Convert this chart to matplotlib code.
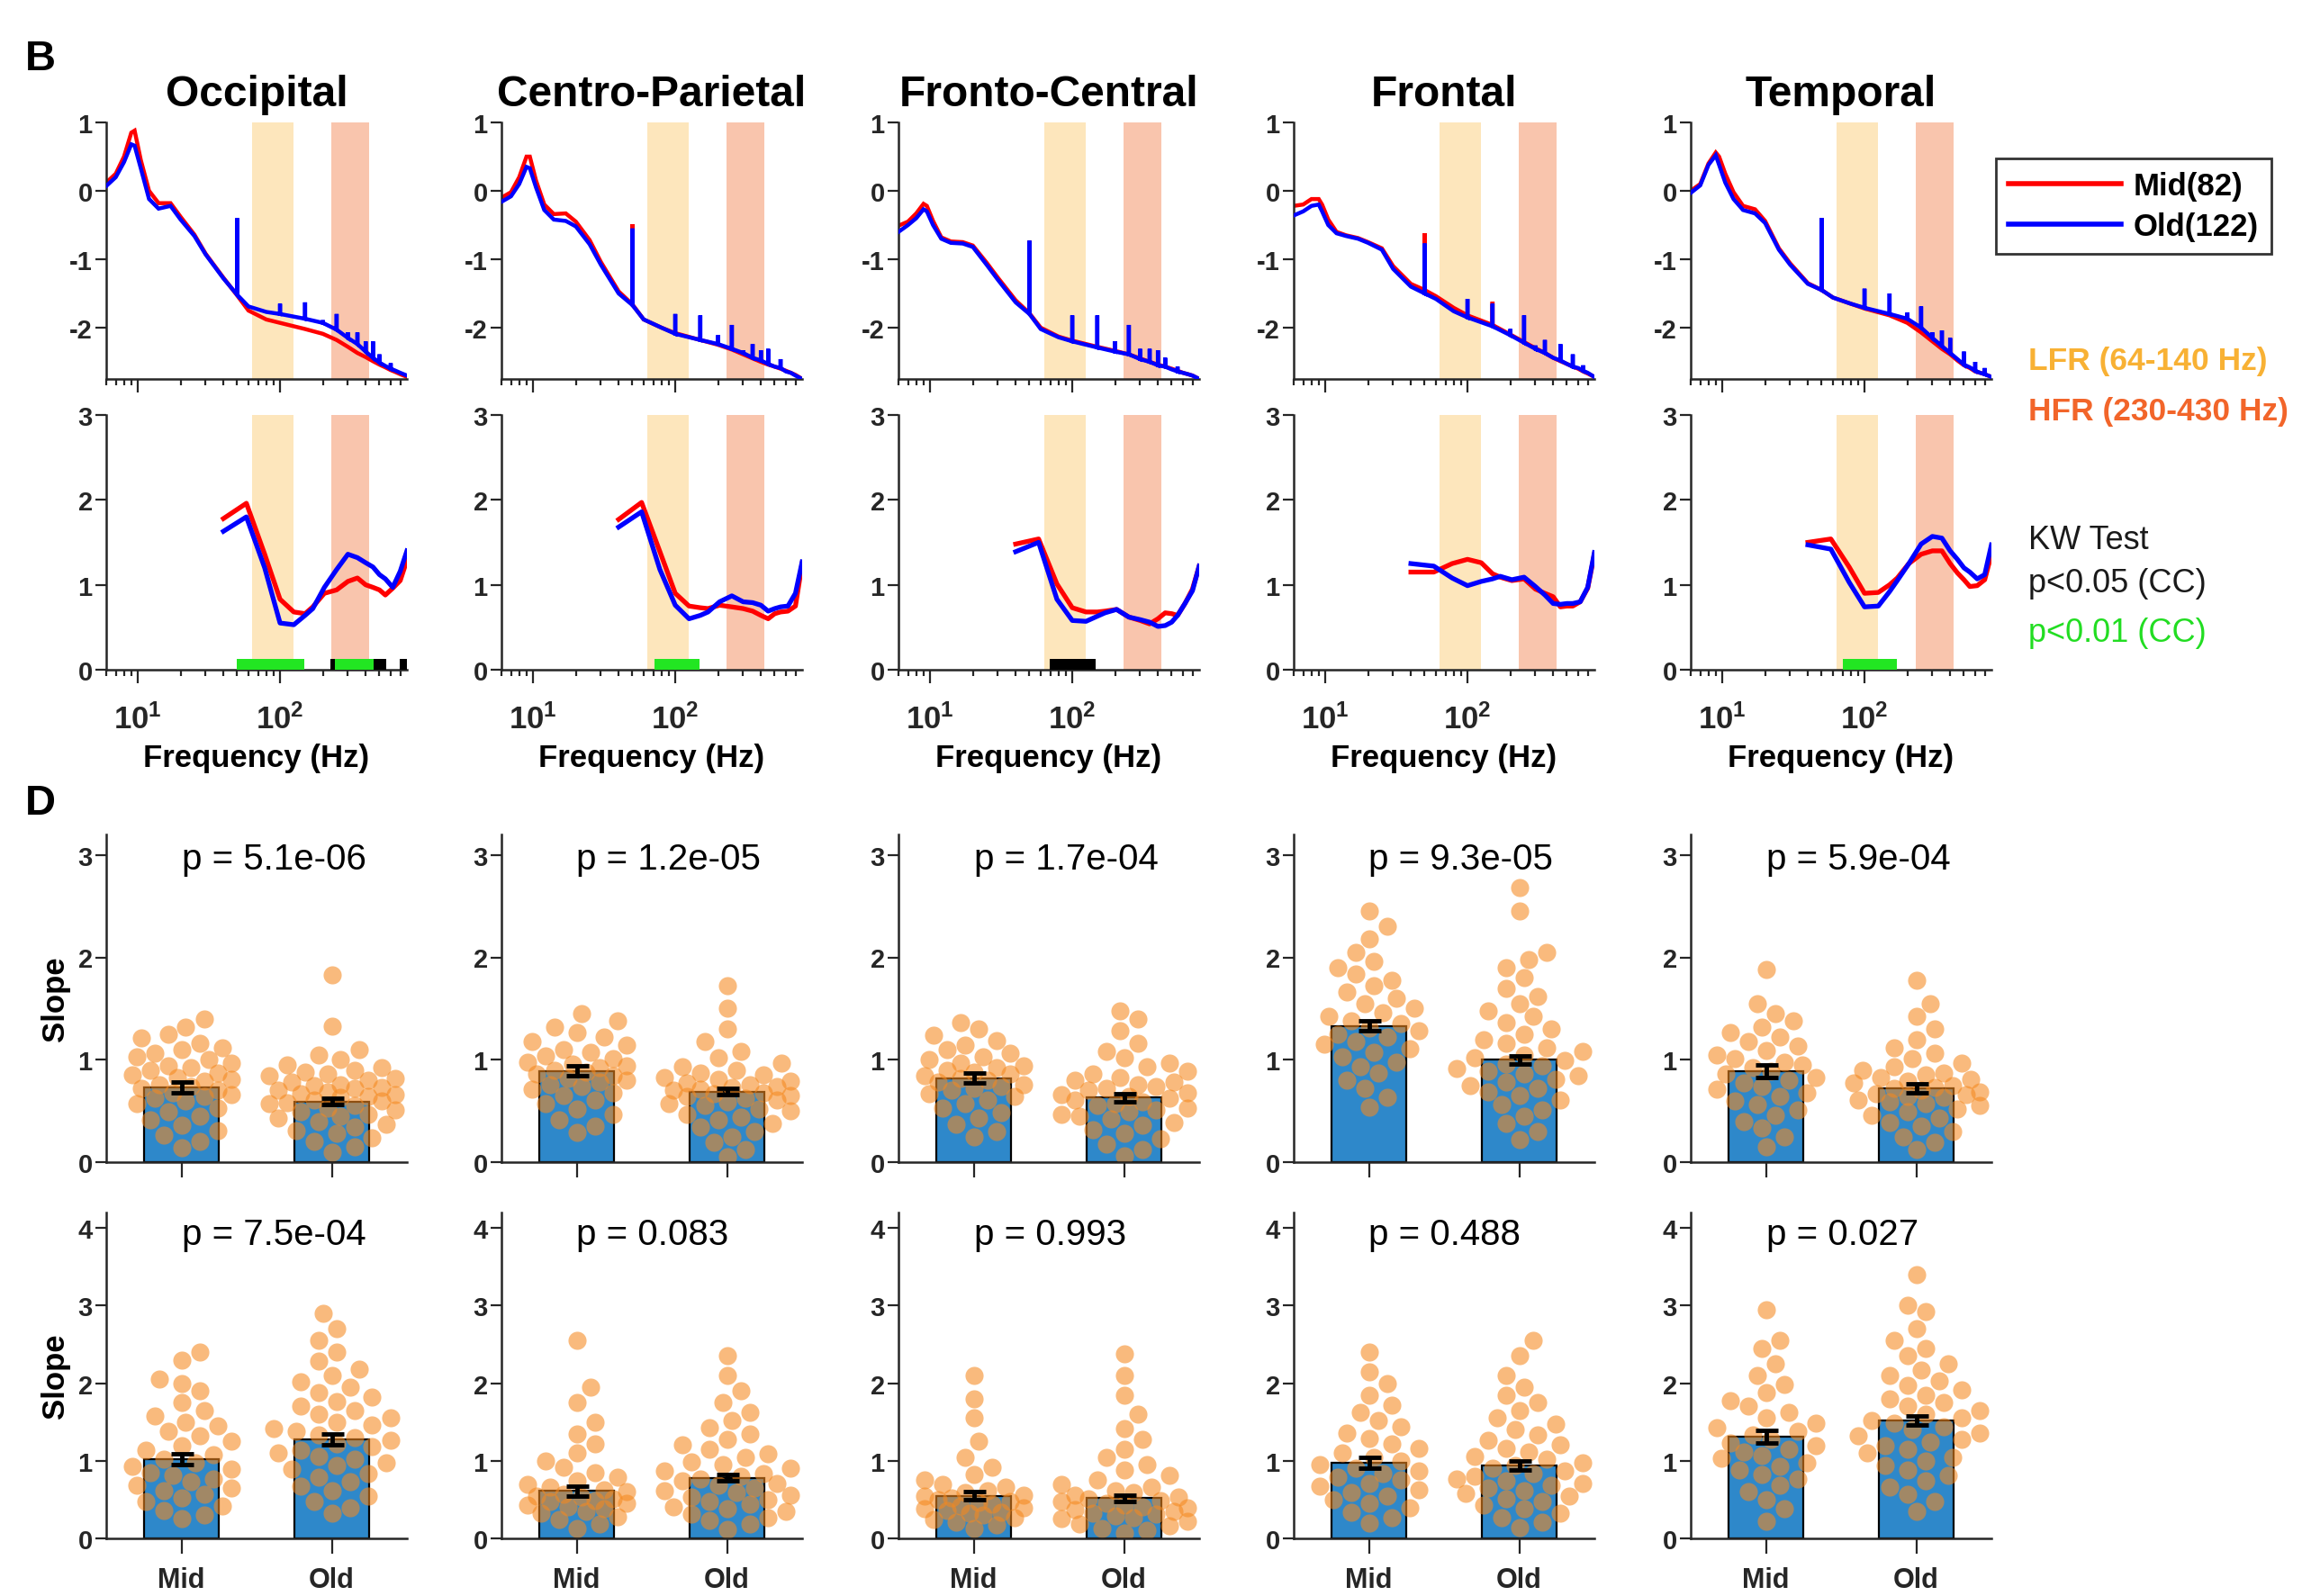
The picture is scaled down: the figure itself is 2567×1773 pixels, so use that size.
import numpy as np
import matplotlib.pyplot as plt
from matplotlib.lines import Line2D
from matplotlib.ticker import NullFormatter

plt.rcParams['font.family'] = ['Liberation Sans', 'DejaVu Sans']
plt.rcParams['mathtext.fontset'] = 'custom'
plt.rcParams['mathtext.rm'] = 'Liberation Sans:bold'
plt.rcParams['mathtext.bf'] = 'Liberation Sans:bold'

# ---------------- data ----------------
regions = ['Occipital', 'Centro-Parietal', 'Fronto-Central', 'Frontal', 'Temporal']

# log power spectra (top row)
freq = [6, 7, 8, 9, 9.5, 10.5, 12, 14, 17, 20, 25, 30, 40, 50, 60, 80, 100, 150, 200,
        250, 300, 350, 400, 450, 500, 550, 600, 650, 700, 780]
psd_mid = [
    [0.12, 0.25, 0.50, 0.85, 0.88, 0.45, 0.00, -0.18, -0.18, -0.38, -0.64, -0.92, -1.27, -1.53, -1.75,
     -1.88, -1.93, -2.02, -2.09, -2.18, -2.28, -2.37, -2.43, -2.49, -2.54, -2.58, -2.62, -2.65, -2.68, -2.72],
    [-0.10, -0.02, 0.20, 0.50, 0.50, 0.15, -0.20, -0.34, -0.33, -0.45, -0.72, -1.04, -1.47, -1.66, -1.88,
     -2.00, -2.08, -2.18, -2.25, -2.32, -2.39, -2.45, -2.50, -2.54, -2.57, -2.60, -2.63, -2.66, -2.69, -2.75],
    [-0.51, -0.45, -0.33, -0.19, -0.22, -0.44, -0.68, -0.74, -0.75, -0.80, -1.05, -1.27, -1.60, -1.79, -2.00,
     -2.13, -2.19, -2.28, -2.34, -2.39, -2.45, -2.50, -2.54, -2.57, -2.60, -2.63, -2.66, -2.68, -2.70, -2.75],
    [-0.22, -0.20, -0.12, -0.12, -0.20, -0.42, -0.60, -0.65, -0.69, -0.75, -0.84, -1.10, -1.36, -1.45, -1.54,
     -1.71, -1.82, -1.96, -2.10, -2.21, -2.30, -2.37, -2.44, -2.49, -2.53, -2.57, -2.60, -2.64, -2.67, -2.72],
    [0.00, 0.10, 0.40, 0.56, 0.50, 0.25, -0.02, -0.22, -0.27, -0.44, -0.84, -1.06, -1.35, -1.45, -1.56,
     -1.65, -1.72, -1.82, -1.93, -2.07, -2.20, -2.31, -2.39, -2.48, -2.55, -2.59, -2.64, -2.66, -2.68, -2.72],
]
psd_old = [
    [0.07, 0.20, 0.42, 0.68, 0.66, 0.33, -0.12, -0.26, -0.22, -0.42, -0.66, -0.93, -1.28, -1.52, -1.69,
     -1.77, -1.80, -1.87, -1.93, -2.03, -2.15, -2.24, -2.35, -2.44, -2.51, -2.56, -2.60, -2.63, -2.66, -2.70],
    [-0.16, -0.08, 0.10, 0.35, 0.33, 0.05, -0.28, -0.42, -0.44, -0.52, -0.78, -1.08, -1.50, -1.67, -1.88,
     -2.00, -2.09, -2.18, -2.24, -2.31, -2.37, -2.44, -2.48, -2.53, -2.57, -2.59, -2.64, -2.66, -2.70, -2.75],
    [-0.60, -0.50, -0.40, -0.27, -0.30, -0.50, -0.70, -0.76, -0.77, -0.82, -1.08, -1.30, -1.63, -1.80, -2.02,
     -2.14, -2.20, -2.29, -2.35, -2.39, -2.46, -2.50, -2.55, -2.57, -2.61, -2.64, -2.66, -2.68, -2.70, -2.75],
    [-0.36, -0.30, -0.22, -0.20, -0.30, -0.50, -0.62, -0.66, -0.70, -0.76, -0.86, -1.14, -1.40, -1.50, -1.58,
     -1.76, -1.85, -1.98, -2.11, -2.22, -2.31, -2.37, -2.44, -2.48, -2.53, -2.57, -2.59, -2.63, -2.66, -2.72],
    [-0.03, 0.08, 0.38, 0.52, 0.38, 0.12, -0.12, -0.28, -0.33, -0.47, -0.86, -1.08, -1.36, -1.45, -1.56,
     -1.65, -1.71, -1.80, -1.87, -2.00, -2.15, -2.27, -2.37, -2.46, -2.54, -2.58, -2.63, -2.66, -2.68, -2.72],
]
# line-noise peaks (top of spike at 50 Hz harmonics, None = no visible spike)
spike_freq = [50, 100, 150, 200, 250, 300, 350, 400, 450, 500, 550, 600, 650, 700]
spike_mid = [
    [None] * 14,
    [-0.49] + [None] * 13,
    [-0.73] + [None] * 13,
    [-0.62, None, -1.62] + [None] * 11,
    [-0.40] + [None] * 13,
]
spike_old = [
    [-0.40, -1.65, -1.63, -1.89, -1.80, -2.07, -2.07, -2.20, -2.20, -2.39, None, -2.52, None, None],
    [-0.55, -1.80, -1.82, -2.11, -1.96, -2.33, -2.24, -2.33, -2.31, None, -2.46, None, None, None],
    [-0.73, -1.82, -1.82, -2.20, -1.96, -2.31, -2.31, -2.33, -2.44, None, -2.57, None, None, None],
    [-0.77, -1.58, -1.65, -2.02, -1.82, -2.26, -2.18, None, -2.24, None, -2.39, None, -2.55, None],
    [-0.40, -1.43, -1.50, -1.78, -1.69, -2.07, -2.04, -2.15, None, -2.35, None, -2.50, None, -2.59],
]

# slope curves (middle row)
freq_hi = [40, 58, 78, 100, 125, 150, 170, 205, 250, 300, 350, 400, 450, 500, 550, 620, 700, 780]
ratio_mid = [
    [1.78, 1.96, 1.36, 0.83, 0.68, 0.66, 0.74, 0.90, 0.94, 1.04, 1.08, 1.00, 0.97, 0.94, 0.88, 0.96, 1.05, 1.29],
    [1.77, 1.97, 1.39, 0.90, 0.75, 0.73, 0.72, 0.76, 0.74, 0.72, 0.69, 0.64, 0.60, 0.66, 0.68, 0.69, 0.75, 1.25],
    [1.48, 1.54, 1.01, 0.73, 0.68, 0.68, 0.69, 0.71, 0.62, 0.58, 0.54, 0.60, 0.67, 0.66, 0.64, 0.78, 0.95, 1.22],
    [1.15, 1.15, 1.25, 1.30, 1.26, 1.13, 1.09, 1.05, 1.07, 0.95, 0.90, 0.86, 0.74, 0.75, 0.75, 0.80, 0.96, 1.36],
    [1.50, 1.54, 1.21, 0.90, 0.91, 1.00, 1.08, 1.25, 1.36, 1.40, 1.40, 1.25, 1.14, 1.06, 0.98, 0.99, 1.06, 1.36],
]
ratio_old = [
    [1.63, 1.80, 1.20, 0.55, 0.53, 0.64, 0.72, 0.97, 1.18, 1.36, 1.32, 1.26, 1.21, 1.12, 1.07, 0.97, 1.16, 1.40],
    [1.68, 1.86, 1.18, 0.76, 0.60, 0.64, 0.68, 0.80, 0.87, 0.80, 0.79, 0.76, 0.69, 0.72, 0.74, 0.75, 0.90, 1.27],
    [1.39, 1.50, 0.83, 0.58, 0.57, 0.63, 0.67, 0.71, 0.62, 0.59, 0.56, 0.51, 0.52, 0.56, 0.64, 0.78, 0.93, 1.22],
    [1.25, 1.22, 1.08, 0.99, 1.04, 1.07, 1.10, 1.06, 1.09, 0.98, 0.88, 0.78, 0.77, 0.78, 0.78, 0.80, 0.97, 1.38],
    [1.47, 1.42, 1.03, 0.74, 0.75, 0.92, 1.05, 1.25, 1.48, 1.57, 1.55, 1.40, 1.30, 1.20, 1.15, 1.07, 1.12, 1.47],
]
# significant frequency ranges (start Hz, end Hz, level)
sig_ranges = [
    [(50, 148, 'p01'), (225, 243, 'p05'), (243, 453, 'p01'), (453, 560, 'p05'), (690, 780, 'p05')],
    [(71, 149, 'p01')],
    [(69, 146, 'p05')],
    [],
    [(70, 168, 'p01')],
]
lfr_band = (64, 125)
hfr_band = (230, 420)

# slope bar panels (D)
groups = ['Mid', 'Old']
row1_mean_mid = [0.73, 0.89, 0.82, 1.33, 0.89]
row1_sem_mid = [0.05, 0.05, 0.05, 0.05, 0.06]
row1_mean_old = [0.59, 0.69, 0.63, 1.00, 0.72]
row1_sem_old = [0.03, 0.03, 0.04, 0.04, 0.045]
row1_p = ['5.1e-06', '1.2e-05', '1.7e-04', '9.3e-05', '5.9e-04']
row2_mean_mid = [1.02, 0.61, 0.55, 0.97, 1.31]
row2_sem_mid = [0.07, 0.06, 0.05, 0.07, 0.08]
row2_mean_old = [1.28, 0.78, 0.52, 0.94, 1.52]
row2_sem_old = [0.07, 0.04, 0.04, 0.06, 0.06]
row2_p = ['7.5e-04', '0.083', '0.993', '0.488', '0.027']

row1_pts_mid = [
    [1.40, 1.32, 1.25, 1.21, 1.16, 1.12, 1.10, 1.06, 1.03, 1.00, 0.97, 0.94, 0.92, 0.90, 0.87, 0.85, 0.83, 0.81, 0.79,
     0.76, 0.74, 0.72, 0.70, 0.68, 0.66, 0.64, 0.62, 0.60, 0.57, 0.53, 0.49, 0.45, 0.41, 0.36, 0.31, 0.26, 0.20, 0.14],
    [1.45, 1.38, 1.32, 1.27, 1.22, 1.18, 1.14, 1.10, 1.07, 1.04, 1.01, 0.98, 0.96, 0.94, 0.92, 0.90, 0.88, 0.86, 0.84,
     0.82, 0.80, 0.78, 0.76, 0.74, 0.71, 0.68, 0.65, 0.61, 0.57, 0.52, 0.47, 0.41, 0.35, 0.29],
    [1.36, 1.30, 1.24, 1.19, 1.14, 1.10, 1.06, 1.03, 1.00, 0.97, 0.94, 0.92, 0.90, 0.88, 0.86, 0.84, 0.82, 0.80, 0.78,
     0.76, 0.74, 0.72, 0.70, 0.67, 0.64, 0.61, 0.57, 0.53, 0.48, 0.43, 0.37, 0.30, 0.25],
    [2.45, 2.30, 2.18, 2.05, 1.96, 1.90, 1.84, 1.78, 1.72, 1.66, 1.60, 1.55, 1.50, 1.46, 1.42, 1.38, 1.35, 1.31, 1.28,
     1.25, 1.22, 1.18, 1.15, 1.11, 1.07, 1.03, 0.98, 0.93, 0.87, 0.80, 0.72, 0.63, 0.54],
    [1.88, 1.55, 1.45, 1.38, 1.32, 1.27, 1.22, 1.18, 1.13, 1.09, 1.05, 1.01, 0.98, 0.95, 0.92, 0.89, 0.86, 0.83, 0.80,
     0.77, 0.74, 0.71, 0.68, 0.64, 0.60, 0.56, 0.51, 0.46, 0.40, 0.33, 0.25, 0.15],
]
row1_pts_old = [
    [1.83, 1.33, 1.10, 1.05, 1.00, 0.95, 0.92, 0.90, 0.88, 0.86, 0.84, 0.82, 0.80, 0.78, 0.76, 0.75, 0.73, 0.72, 0.70,
     0.69, 0.67, 0.66, 0.64, 0.63, 0.61, 0.60, 0.58, 0.57, 0.55, 0.53, 0.51, 0.49, 0.47, 0.45, 0.43, 0.40, 0.37, 0.34,
     0.31, 0.28, 0.24, 0.20, 0.15, 0.10],
    [1.72, 1.50, 1.30, 1.18, 1.08, 1.02, 0.97, 0.93, 0.90, 0.87, 0.85, 0.83, 0.81, 0.79, 0.77, 0.76, 0.74, 0.73, 0.71,
     0.70, 0.68, 0.67, 0.65, 0.64, 0.62, 0.61, 0.59, 0.57, 0.55, 0.52, 0.50, 0.47, 0.44, 0.41, 0.38, 0.34, 0.30, 0.25,
     0.19, 0.12, 0.05],
    [1.48, 1.40, 1.28, 1.16, 1.08, 1.02, 0.97, 0.93, 0.89, 0.86, 0.83, 0.80, 0.78, 0.76, 0.74, 0.72, 0.70, 0.68, 0.66,
     0.64, 0.62, 0.61, 0.59, 0.57, 0.55, 0.53, 0.51, 0.49, 0.47, 0.45, 0.42, 0.39, 0.36, 0.32, 0.28, 0.23, 0.18, 0.12,
     0.06],
    [2.68, 2.45, 2.05, 1.98, 1.90, 1.80, 1.70, 1.62, 1.55, 1.48, 1.42, 1.36, 1.30, 1.25, 1.20, 1.16, 1.12, 1.08, 1.05,
     1.02, 0.99, 0.96, 0.94, 0.91, 0.89, 0.86, 0.84, 0.81, 0.78, 0.75, 0.72, 0.69, 0.65, 0.61, 0.56, 0.51, 0.45, 0.38,
     0.30, 0.22],
    [1.78, 1.55, 1.42, 1.30, 1.20, 1.12, 1.06, 1.01, 0.97, 0.93, 0.90, 0.87, 0.85, 0.83, 0.81, 0.79, 0.77, 0.75, 0.73,
     0.72, 0.70, 0.69, 0.67, 0.66, 0.64, 0.63, 0.61, 0.59, 0.57, 0.55, 0.52, 0.49, 0.46, 0.43, 0.39, 0.35, 0.30, 0.25,
     0.19, 0.12],
]
row2_pts_mid = [
    [2.40, 2.30, 2.05, 2.00, 1.90, 1.75, 1.65, 1.58, 1.50, 1.45, 1.38, 1.32, 1.25, 1.20, 1.14, 1.08, 1.02, 0.97, 0.93,
     0.89, 0.85, 0.81, 0.77, 0.73, 0.69, 0.65, 0.61, 0.57, 0.52, 0.47, 0.42, 0.36, 0.30, 0.25],
    [2.55, 1.95, 1.75, 1.50, 1.35, 1.22, 1.10, 1.00, 0.92, 0.85, 0.79, 0.74, 0.70, 0.66, 0.63, 0.60, 0.57, 0.55, 0.53,
     0.51, 0.49, 0.47, 0.45, 0.43, 0.41, 0.38, 0.35, 0.32, 0.28, 0.24, 0.19, 0.13],
    [2.10, 1.80, 1.55, 1.25, 1.05, 0.92, 0.82, 0.75, 0.70, 0.66, 0.62, 0.59, 0.56, 0.54, 0.52, 0.50, 0.48, 0.46, 0.44,
     0.42, 0.40, 0.38, 0.36, 0.34, 0.32, 0.30, 0.27, 0.24, 0.21, 0.17, 0.13],
    [2.40, 2.15, 2.00, 1.85, 1.72, 1.62, 1.52, 1.44, 1.36, 1.29, 1.22, 1.16, 1.10, 1.05, 1.00, 0.95, 0.91, 0.87, 0.83,
     0.79, 0.75, 0.71, 0.67, 0.63, 0.59, 0.55, 0.50, 0.45, 0.40, 0.34, 0.27, 0.20],
    [2.95, 2.55, 2.45, 2.25, 2.10, 1.98, 1.88, 1.78, 1.70, 1.62, 1.55, 1.49, 1.43, 1.38, 1.33, 1.28, 1.23, 1.19, 1.15,
     1.11, 1.07, 1.03, 0.98, 0.93, 0.88, 0.82, 0.76, 0.68, 0.60, 0.50, 0.38, 0.22],
]
row2_pts_old = [
    [2.90, 2.70, 2.55, 2.40, 2.28, 2.18, 2.10, 2.02, 1.95, 1.88, 1.82, 1.76, 1.70, 1.65, 1.60, 1.55, 1.50, 1.46, 1.42,
     1.38, 1.34, 1.30, 1.26, 1.22, 1.18, 1.14, 1.10, 1.06, 1.02, 0.98, 0.94, 0.89, 0.84, 0.79, 0.73, 0.67, 0.61, 0.55,
     0.48, 0.40, 0.32],
    [2.35, 2.10, 1.90, 1.75, 1.62, 1.52, 1.43, 1.35, 1.28, 1.21, 1.15, 1.09, 1.04, 0.99, 0.95, 0.91, 0.87, 0.83, 0.80,
     0.77, 0.74, 0.71, 0.68, 0.65, 0.62, 0.59, 0.56, 0.53, 0.50, 0.47, 0.44, 0.41, 0.38, 0.35, 0.31, 0.27, 0.23, 0.18,
     0.12],
    [2.38, 2.10, 1.85, 1.60, 1.42, 1.28, 1.15, 1.04, 0.95, 0.88, 0.81, 0.75, 0.70, 0.66, 0.62, 0.59, 0.56, 0.53, 0.51,
     0.49, 0.47, 0.45, 0.43, 0.41, 0.39, 0.37, 0.35, 0.33, 0.31, 0.29, 0.27, 0.25, 0.22, 0.19, 0.16, 0.13, 0.10, 0.07],
    [2.55, 2.35, 2.10, 1.95, 1.85, 1.75, 1.65, 1.55, 1.47, 1.40, 1.33, 1.27, 1.21, 1.16, 1.11, 1.06, 1.02, 0.98, 0.94,
     0.90, 0.87, 0.83, 0.80, 0.77, 0.74, 0.71, 0.68, 0.65, 0.62, 0.58, 0.55, 0.51, 0.47, 0.43, 0.38, 0.33, 0.27, 0.21,
     0.14],
    [3.40, 3.00, 2.92, 2.70, 2.55, 2.45, 2.35, 2.25, 2.17, 2.10, 2.03, 1.97, 1.91, 1.85, 1.80, 1.75, 1.70, 1.65, 1.60,
     1.56, 1.52, 1.48, 1.44, 1.40, 1.36, 1.32, 1.28, 1.24, 1.20, 1.15, 1.10, 1.05, 1.00, 0.94, 0.88, 0.81, 0.74, 0.66,
     0.57, 0.47, 0.35],
]

# ---------------- style ----------------
W, H = 2567, 1774
MID_C, OLD_C = '#FF0000', '#0000FF'
LFR_C, HFR_C = '#FDE6BC', '#F9C5AD'
SIG_C = {'p01': '#22E622', 'p05': 'black'}
BAR_C = '#2E88CA'
DOT_C = '#F5891F'
AX_C = '#262626'

lefts = [118, 557, 998, 1437, 1878]
AX_W = 334


def rect(x0, ytop, ybot):
    return [x0 / W, 1 - ybot / H, AX_W / W, (ybot - ytop) / H]


def style(ax):
    for s in ['top', 'right']:
        ax.spines[s].set_visible(False)
    for s in ['left', 'bottom']:
        ax.spines[s].set_linewidth(1.8)
        ax.spines[s].set_color(AX_C)
    ax.tick_params(which='major', direction='out', width=1.6, length=9, colors=AX_C,
                   labelsize=21, pad=2)
    ax.tick_params(which='minor', direction='out', width=1.6, length=5, colors=AX_C)


def spectrum_xy(f, vals, spikes):
    xs, ys = [], []
    for fi, vi in zip(f, vals):
        xs.append(fi)
        ys.append(vi)
        if fi in spike_freq:
            top = spikes[spike_freq.index(fi)]
            if top is not None:
                xs += [fi, fi]
                ys += [top, vi]
    return xs, ys


def swarm_x(vals, center, px_x, px_y, gap, max_px):
    # beeswarm layout in pixel space, limited half-width
    vals = np.asarray(vals)
    order = np.argsort(vals)
    step = 5.0
    n = int(max_px / step)
    cands = [0.0]
    for k in range(1, n + 1):
        cands += [k * step, -k * step]
    px_list, py_list = [], []
    xs = np.zeros(len(vals))
    for i in order:
        y = vals[i] * px_y
        best, bestd = 0.0, -1.0
        for off in cands:
            if px_list:
                dist = np.min(np.hypot(np.array(px_list) - off, np.array(py_list) - y))
            else:
                dist = np.inf
            if dist >= gap:
                best = off
                break
            if dist > bestd:
                bestd, best = dist, off
        px_list.append(best)
        py_list.append(y)
        xs[i] = center + best / px_x
    return xs


fig = plt.figure(figsize=(W / 100, H / 100), dpi=100)

for i, name in enumerate(regions):
    # ---- top row: spectra ----
    ax = fig.add_axes(rect(lefts[i], 137, 422))
    style(ax)
    ax.set_xscale('log')
    ax.axvspan(*lfr_band, color=LFR_C, lw=0, zorder=0)
    ax.axvspan(*hfr_band, color=HFR_C, lw=0, zorder=0)
    xm, ym = spectrum_xy(freq, psd_mid[i], spike_mid[i])
    xo, yo = spectrum_xy(freq, psd_old[i], spike_old[i])
    ax.plot(xm, ym, color=MID_C, lw=3.2, zorder=2, solid_joinstyle='miter')
    ax.plot(xo, yo, color=OLD_C, lw=3.2, zorder=3, solid_joinstyle='miter')
    ax.set_xlim(6, 780)
    ax.set_ylim(-2.75, 1)
    ax.set_yticks([-2, -1, 0, 1], labels=['-2', '-1', '0', '1'], fontweight='bold')
    ax.set_xticks([10, 100], labels=['', ''])
    ax.xaxis.set_minor_formatter(NullFormatter())
    ax.tick_params(axis='x', which='major', length=11)
    fig.text((lefts[i] + AX_W / 2) / W, 1 - 118 / H, name, ha='center', va='baseline',
             fontsize=34.5, fontweight='bold')

    # ---- middle row: slopes vs frequency ----
    ax = fig.add_axes(rect(lefts[i], 462, 745))
    style(ax)
    ax.set_xscale('log')
    ax.axvspan(*lfr_band, color=LFR_C, lw=0, zorder=0)
    ax.axvspan(*hfr_band, color=HFR_C, lw=0, zorder=0)
    ax.plot(freq_hi, ratio_mid[i], color=MID_C, lw=3.8, zorder=2)
    ax.plot(freq_hi, ratio_old[i], color=OLD_C, lw=3.8, zorder=3)
    for f0, f1, lev in sig_ranges[i]:
        ax.fill_between([f0, f1], 0, 0.13, color=SIG_C[lev], lw=0, zorder=4)
    ax.set_xlim(6, 780)
    ax.set_ylim(0, 3)
    ax.set_yticks([0, 1, 2, 3], labels=['0', '1', '2', '3'], fontweight='bold')
    ax.set_xticks([10, 100], labels=[r'$\mathbf{10^{1}}$', r'$\mathbf{10^{2}}$'], fontsize=25)
    ax.xaxis.set_minor_formatter(NullFormatter())
    ax.tick_params(axis='x', which='major', length=11, pad=16)
    fig.text((lefts[i] + AX_W / 2) / W, 1 - 852 / H, 'Frequency (Hz)', ha='center',
             va='baseline', fontsize=25, fontweight='bold')

    # ---- bar rows ----
    for r, (ytop, ybot, ymax, yt) in enumerate([(928, 1292, 3.2, [0, 1, 2, 3]),
                                                  (1348, 1710, 4.2, [0, 1, 2, 3, 4])]):
        means = [row1_mean_mid[i], row1_mean_old[i]] if r == 0 else [row2_mean_mid[i], row2_mean_old[i]]
        sems = [row1_sem_mid[i], row1_sem_old[i]] if r == 0 else [row2_sem_mid[i], row2_sem_old[i]]
        pts = [row1_pts_mid[i], row1_pts_old[i]] if r == 0 else [row2_pts_mid[i], row2_pts_old[i]]
        ptxt = row1_p[i] if r == 0 else row2_p[i]
        ax = fig.add_axes(rect(lefts[i], ytop, ybot))
        style(ax)
        ax.bar([1, 2], means, width=0.5, color=BAR_C, edgecolor='black', lw=1.6, zorder=1)
        px_x = AX_W / 2.0
        px_y = (ybot - ytop) / ymax
        for g in range(2):
            xs = swarm_x(pts[g], g + 1, px_x, px_y, 21, 58 if g == 0 else 72)
            ax.scatter(xs, pts[g], s=210, color=DOT_C, alpha=0.58, lw=0, zorder=2)
        ax.errorbar([1, 2], means, yerr=sems, fmt='none', ecolor='black', elinewidth=3.5,
                    capsize=9, capthick=3.5, zorder=3)
        ax.set_xlim(0.5, 2.5)
        ax.set_ylim(0, ymax)
        ax.set_yticks(yt, labels=[str(t) for t in yt], fontweight='bold')
        if r == 1:
            ax.set_xticks([1, 2], labels=groups, fontweight='bold', fontsize=22)
        else:
            ax.set_xticks([1, 2], labels=['', ''])
        ax.tick_params(axis='x', length=12, pad=10)
        ax.text(1.0, ymax * (0.925 if r == 0 else 0.935), 'p = ' + ptxt, ha='left', va='center',
                fontsize=29)
        if i == 0:
            ax.set_ylabel('Slope', fontsize=25, fontweight='bold', labelpad=6)

# panel letters
fig.text(28 / W, 1 - 78 / H, 'B', fontsize=34, fontweight='bold', va='baseline')
fig.text(28 / W, 1 - 905 / H, 'D', fontsize=34, fontweight='bold', va='baseline')

# legend and annotation texts
handles = [Line2D([], [], color=MID_C, lw=4), Line2D([], [], color=OLD_C, lw=4)]
leg = fig.legend(handles, ['Mid(82)', 'Old(122)'], loc='upper left',
                 bbox_to_anchor=(2217 / W, 1 - 177 / H), frameon=True, fancybox=False,
                 edgecolor='black', prop={'weight': 'bold', 'size': 25}, handlelength=3.6,
                 borderpad=0.4, labelspacing=0.35, handletextpad=0.4, borderaxespad=0)
leg.get_frame().set_linewidth(2)

fig.text(2253 / W, 1 - 401 / H, 'LFR (64-140 Hz)', color='#F8B134', fontsize=25.5,
         fontweight='bold', va='center')
fig.text(2253 / W, 1 - 458 / H, 'HFR (230-430 Hz)', color='#F2652A', fontsize=25.5,
         fontweight='bold', va='center')
fig.text(2253 / W, 1 - 601 / H, 'KW Test', color='#1a1a1a', fontsize=26, va='center')
fig.text(2253 / W, 1 - 648 / H, 'p<0.05 (CC)', color='#1a1a1a', fontsize=26, va='center')
fig.text(2253 / W, 1 - 704 / H, 'p<0.01 (CC)', color='#22DD22', fontsize=26, va='center')

fig.savefig('out.png', dpi=100)
